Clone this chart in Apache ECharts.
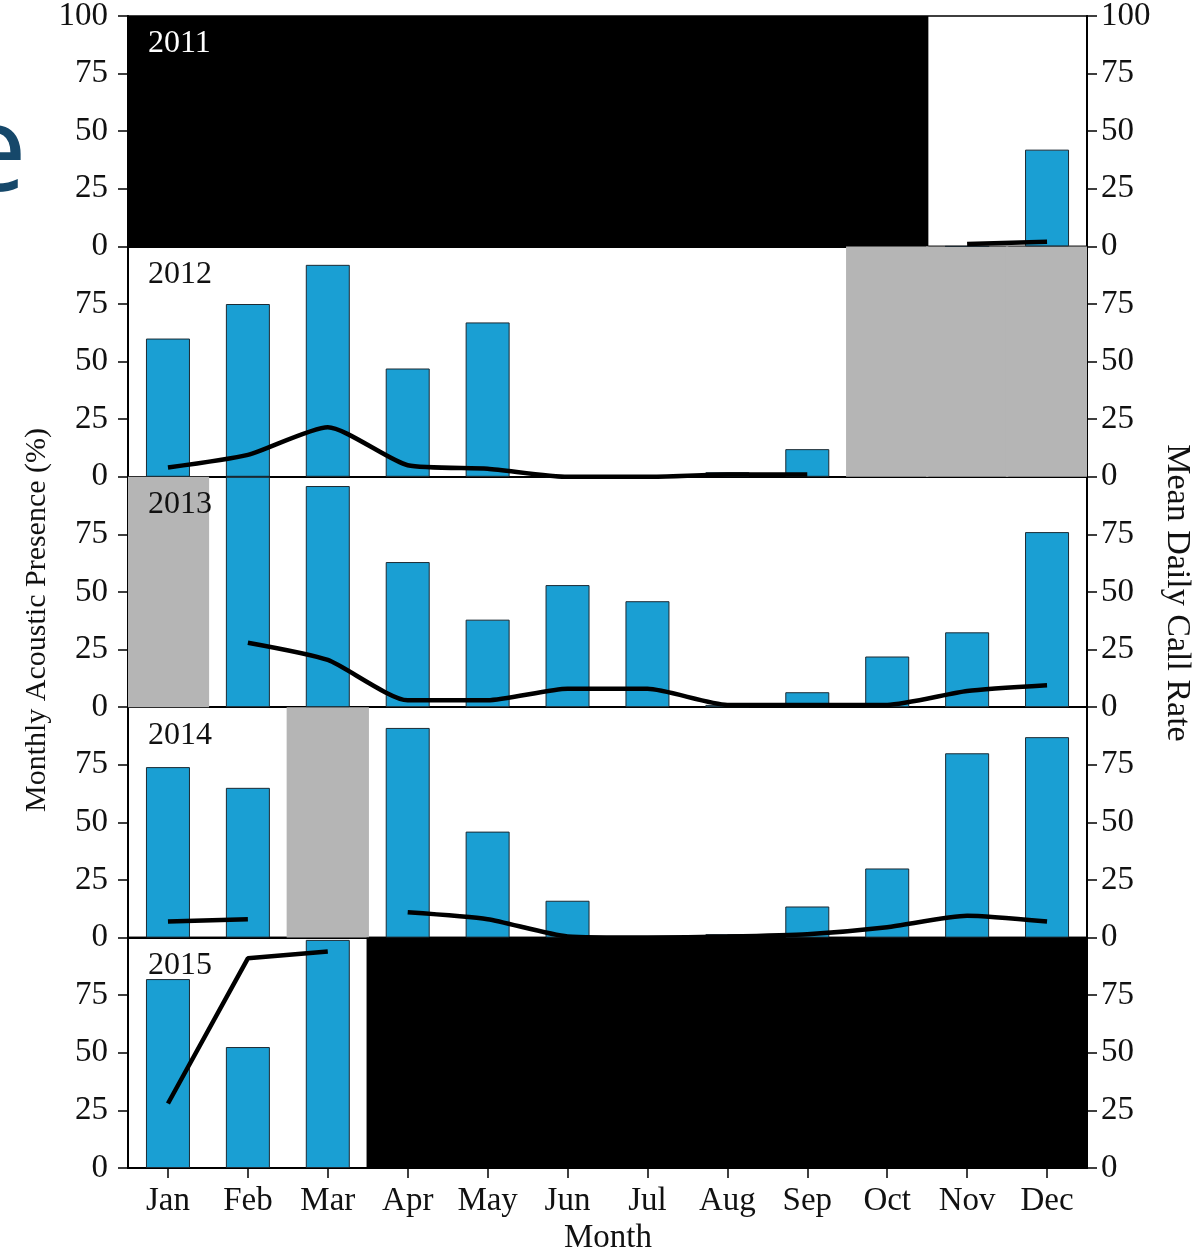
<!DOCTYPE html>
<html><head><meta charset="utf-8">
<script src="https://cdn.jsdelivr.net/npm/echarts@6/dist/echarts.min.js"></script>
<style>html,body{margin:0;padding:0;background:#fff}#c{width:1198px;height:1253px}</style>
</head><body><div id="c"></div>
<script>
const months = ['Jan','Feb','Mar','Apr','May','Jun','Jul','Aug','Sep','Oct','Nov','Dec'];
const years = ['2011','2012','2013','2014','2015'];
const yTicks = [0, 25, 50, 75, 100];

// Monthly acoustic presence (%)
const presence2011 = [null,null,null,null,null,null,null,null,null,null,0,42];
const presence2012 = [60,75,92,47,67,0,0,2,12,null,null,null];
const presence2013 = [null,100,96,63,38,53,46,1,6.5,22,32.5,76];
const presence2014 = [74,65,null,91,46,16,0,1.5,13.5,30,80,87];
const presence2015 = [82,52.5,99,null,null,null,null,null,null,null,null,null];

// Mean daily call rate
const call2011 = [null,null,null,null,null,null,null,null,null,null,1,2];
const call2012 = [4,9.5,21.5,5,3.5,0,0,1,1,null,null,null];
const call2013 = [null,28,20.5,3,3,8,8,1,1,1,7,9.5];
const call2014 = [7,8,null,11,8,0.5,0,0.5,1.5,4.5,9.5,7];
const call2015 = [28,91,94,null,null,null,null,null,null,null,null,null];

// Coverage: 'B' = not deployed (black), 'G' = partial/no data (grey), '' = recorded
const shade2011 = ['B','B','B','B','B','B','B','B','B','B','',''];
const shade2012 = ['','','','','','','','','','G','G','G'];
const shade2013 = ['G','','','','','','','','','','',''];
const shade2014 = ['','','G','','','','','','','','',''];
const shade2015 = ['','','','B','B','B','B','B','B','B','B','B'];

const presence = [presence2011, presence2012, presence2013, presence2014, presence2015];
const calls = [call2011, call2012, call2013, call2014, call2015];
const shades = [shade2011, shade2012, shade2013, shade2014, shade2015];

const FONT = 'Liberation Serif';
const shadeColor = {B: '#000000', G: '#b5b5b5'};
const top0 = 16, ph = 230.4, gl = 128, gw = 959;
const n = years.length;

const grid = [], xAxis = [], yAxis = [], series = [], graphic = [];
for (let i = 0; i < n; i++) {
  grid.push({left: gl, width: gw, top: top0 + i * ph, height: ph, show: true,
    borderColor: '#000', borderWidth: 1.5, backgroundColor: 'transparent',
    containLabel: false, outerBoundsMode: 'none'});
}
for (let i = 0; i < n; i++) {
  const last = i === n - 1;
  xAxis.push({type: 'category', gridIndex: i, data: months, boundaryGap: true,
    axisLine: {show: true, lineStyle: {color: '#000', width: 2}},
    axisTick: {show: last, alignWithLabel: true, length: 10, inside: false, lineStyle: {color: '#000', width: 1.5}},
    axisLabel: {show: last, interval: 0, fontFamily: FONT, fontSize: 33, color: '#111', margin: 17},
    splitLine: {show: false}});
}
for (let i = 0; i < n; i++) {
  xAxis.push({type: 'category', gridIndex: i, data: months, show: false, boundaryGap: true});
}
for (let i = 0; i < n; i++) {
  const fmt = v => (v === 100 && i > 0) ? '' : String(v);
  const common = {type: 'value', gridIndex: i, min: yTicks[0], max: yTicks[yTicks.length - 1], interval: 25,
    axisLine: {show: true, lineStyle: {color: '#000', width: 2}},
    axisTick: {show: true, length: 10, inside: false, lineStyle: {color: '#000', width: 1.5}},
    splitLine: {show: false}};
  yAxis.push(Object.assign({}, common, {position: 'left',
    axisLabel: {formatter: fmt, fontFamily: FONT, fontSize: 33, color: '#111', margin: 20, showMinLabel: true, showMaxLabel: true}}));
  yAxis.push(Object.assign({}, common, {position: 'right',
    axisLabel: {formatter: fmt, fontFamily: FONT, fontSize: 33, color: '#111', margin: 14, showMinLabel: true, showMaxLabel: true}}));
}
for (let i = 0; i < n; i++) {
  series.push({type: 'bar', name: 'coverage' + years[i], xAxisIndex: n + i, yAxisIndex: 2 * i,
    barWidth: '103%', silent: true, z: 1, clip: true,
    data: shades[i].map(s => s ? {value: 100, itemStyle: {color: shadeColor[s], borderWidth: 0}} : '-')});
  series.push({type: 'bar', name: 'presence' + years[i], xAxisIndex: i, yAxisIndex: 2 * i,
    barWidth: 44, z: 2,
    itemStyle: {color: '#1a9fd3', borderColor: '#1c2a33', borderWidth: 1},
    data: presence[i].map(v => v === null ? '-' : v)});
  series.push({type: 'line', name: 'calls' + years[i], xAxisIndex: i, yAxisIndex: 2 * i + 1,
    z: 3, symbol: 'none', smooth: i === n - 1 ? false : 0.2, connectNulls: false,
    lineStyle: {color: '#000', width: 4.5},
    data: calls[i].map(v => v === null ? '-' : v)});
  graphic.push({type: 'text', x: 148, y: top0 + i * ph + 28, z: 100,
    style: {text: years[i], fill: i === 0 ? '#fff' : '#111', font: '32px "' + FONT + '"', align: 'left', verticalAlign: 'middle'}});
}
graphic.push({type: 'text', x: 37, y: 620, rotation: Math.PI / 2, z: 100,
  style: {text: 'Monthly Acoustic Presence (%)', fill: '#111', font: '30px "' + FONT + '"', align: 'center', verticalAlign: 'middle'}});
graphic.push({type: 'text', x: 1177, y: 593, rotation: -Math.PI / 2, z: 100,
  style: {text: 'Mean Daily Call Rate', fill: '#111', font: '34px "' + FONT + '"', align: 'center', verticalAlign: 'middle'}});
graphic.push({type: 'text', x: 608, y: 1238, z: 100,
  style: {text: 'Month', fill: '#111', font: '33px "' + FONT + '"', align: 'center', verticalAlign: 'middle'}});
graphic.push({type: 'text', x: 27, y: 157, z: 100,
  style: {text: 'e', fill: '#16486a', font: '120px "Open Sans"', align: 'right', verticalAlign: 'middle'}});

const chart = echarts.init(document.getElementById('c'), null, {renderer: 'canvas'});
chart.setOption({animation: false, backgroundColor: '#fff', grid, xAxis, yAxis, series, graphic});
</script></body></html>
